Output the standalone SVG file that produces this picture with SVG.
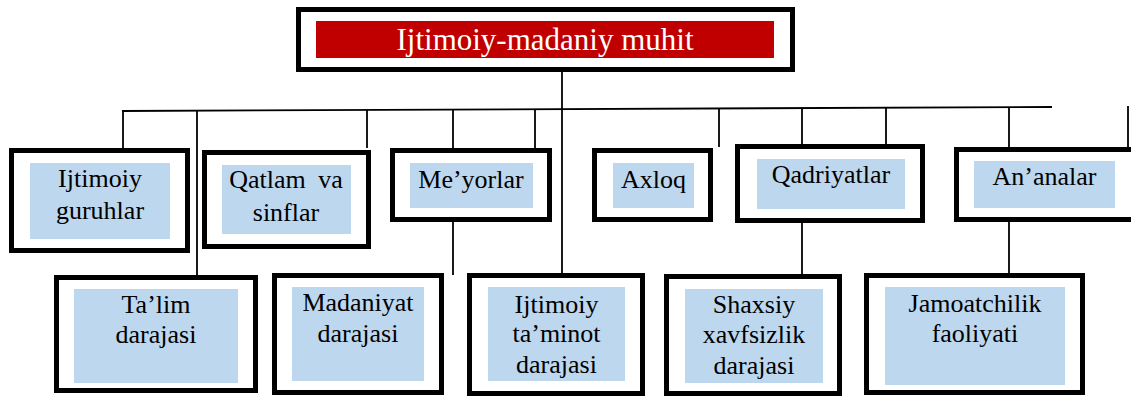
<svg xmlns="http://www.w3.org/2000/svg" width="1131" height="396" viewBox="0 0 1131 396">
<style>
.box{fill:#fff;stroke:#000;stroke-width:5}
.in{fill:#BDD7EE}
.t{font-family:"Liberation Serif","Times New Roman",serif;font-size:26px;fill:#000;text-anchor:middle}
.c{stroke:#000;stroke-width:1.8;fill:none}
</style>
<rect width="1131" height="396" fill="#fff"/>
<g id="connectors">
<line class="c" x1="562" y1="72" x2="562" y2="275"/>
<line class="c" x1="122" y1="111" x2="1052" y2="107"/>
<line class="c" x1="123" y1="111" x2="123" y2="148"/>
<line class="c" x1="197" y1="111" x2="197" y2="275"/>
<line class="c" x1="367" y1="110" x2="367" y2="148"/>
<line class="c" x1="453" y1="110" x2="453" y2="148"/>
<line class="c" x1="535" y1="109" x2="535" y2="148"/>
<line class="c" x1="719" y1="108" x2="719" y2="147"/>
<line class="c" x1="802" y1="108" x2="802" y2="144"/>
<line class="c" x1="886" y1="108" x2="886" y2="144"/>
<line class="c" x1="1009" y1="107" x2="1009" y2="147"/>
<line class="c" x1="1128" y1="106" x2="1128" y2="147"/>
<line class="c" x1="453" y1="222" x2="453" y2="275"/>
<line class="c" x1="802" y1="223" x2="802" y2="274"/>
<line class="c" x1="1009" y1="222" x2="1009" y2="273"/>
</g>
<g id="root">
<rect class="box" x="298.5" y="9.5" width="494" height="60"/>
<rect x="316" y="21" width="458" height="37" fill="#C00000"/>
<text x="545" y="50" font-family="Liberation Serif, Times New Roman, serif" font-size="31" fill="#fff" text-anchor="middle">Ijtimoiy-madaniy muhit</text>
</g>
<g id="n1">
<rect class="box" x="11.5" y="150.5" width="176" height="100"/>
<rect class="in" x="30" y="163" width="140" height="76"/>
<text class="t" x="100" y="187">Ijtimoiy</text>
<text class="t" x="100" y="219">guruhlar</text>
</g>
<g id="n2">
<rect class="box" x="204.5" y="152.5" width="164" height="94"/>
<rect class="in" x="222" y="165" width="129" height="69"/>
<text class="t" x="286" y="188" word-spacing="6">Qatlam va</text>
<text class="t" x="286" y="221">sinflar</text>
</g>
<g id="n3">
<rect class="box" x="392.5" y="150.5" width="157" height="69"/>
<rect class="in" x="410" y="163" width="123" height="45"/>
<text class="t" x="471" y="188">Me’yorlar</text>
</g>
<g id="n4">
<rect class="box" x="594.5" y="150.5" width="116" height="69"/>
<rect class="in" x="613" y="163" width="81" height="45"/>
<text class="t" x="653.5" y="188">Axloq</text>
</g>
<g id="n5">
<rect class="box" x="737.5" y="146.5" width="185" height="74"/>
<rect class="in" x="757" y="159" width="148" height="50"/>
<text class="t" x="831" y="183">Qadriyatlar</text>
</g>
<g id="n6">
<rect class="box" x="956.5" y="149.5" width="180" height="70"/>
<rect class="in" x="974" y="161" width="141" height="47"/>
<text class="t" x="1044.5" y="185">An’analar</text>
</g>
<g id="n7">
<rect class="box" x="56.5" y="277.5" width="199" height="113"/>
<rect class="in" x="74" y="289" width="164" height="94"/>
<text class="t" x="156" y="313">Ta’lim</text>
<text class="t" x="156" y="343">darajasi</text>
</g>
<g id="n8">
<rect class="box" x="274.5" y="275.5" width="167" height="117"/>
<rect class="in" x="292" y="287" width="132" height="94"/>
<text class="t" x="358" y="311">Madaniyat</text>
<text class="t" x="358" y="342">darajasi</text>
</g>
<g id="n9">
<rect class="box" x="469.5" y="275.5" width="173" height="118"/>
<rect class="in" x="488" y="287" width="137" height="94"/>
<text class="t" x="556.5" y="313">Ijtimoiy</text>
<text class="t" x="556.5" y="342">ta’minot</text>
<text class="t" x="556.5" y="373">darajasi</text>
</g>
<g id="n10">
<rect class="box" x="666.5" y="276.5" width="173" height="117"/>
<rect class="in" x="685" y="289" width="138" height="94"/>
<text class="t" x="754" y="313">Shaxsiy</text>
<text class="t" x="754" y="343">xavfsizlik</text>
<text class="t" x="754" y="374">darajasi</text>
</g>
<g id="n11">
<rect class="box" x="866.5" y="275.5" width="216" height="117"/>
<rect class="in" x="885" y="287" width="180" height="98"/>
<text class="t" x="975" y="312">Jamoatchilik</text>
<text class="t" x="975" y="342">faoliyati</text>
</g>
</svg>
